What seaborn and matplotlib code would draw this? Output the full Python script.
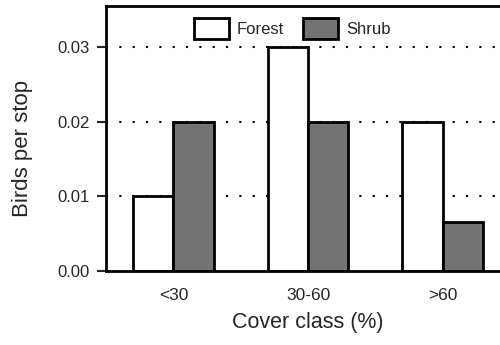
import pandas as pd
import matplotlib
matplotlib.use("Agg")
import matplotlib.pyplot as plt
import seaborn as sns

# Values
cover_classes = ["<30", "30-60", ">60"]
forest = [0.010, 0.030, 0.020]
shrub = [0.020, 0.020, 0.0066]
y_ticks = [0.00, 0.01, 0.02, 0.03]

df = pd.DataFrame({
    "cover": cover_classes * 2,
    "habitat": ["Forest"] * 3 + ["Shrub"] * 3,
    "birds": forest + shrub,
})

sns.set_style("white")
plt.rcParams["font.family"] = ["Liberation Sans", "DejaVu Sans"]

fig = plt.figure(figsize=(5, 3.45), dpi=100)
# the original plot is cut off on the right, so the axes run past the edge
ax = fig.add_axes([0.212, 0.2145, 0.808, 0.768])

# Dotted reference lines behind the bars
for yv in y_ticks[1:]:
    ax.axhline(yv, color="black", linestyle=(0, (1, 5.4)), linewidth=1.5, zorder=0)

sns.barplot(data=df, x="cover", y="birds", hue="habitat", order=cover_classes,
            palette={"Forest": "white", "Shrub": "#737373"}, width=0.6,
            edgecolor="black", linewidth=2, saturation=1, ax=ax, zorder=2)

ax.set_xlim(-0.5, 2.5)
ax.set_ylim(0, 0.0355)
ax.set_yticks(y_ticks)
ax.set_yticklabels([f"{v:.2f}" for v in y_ticks])
ax.tick_params(axis="y", direction="out", length=6.5, width=1.5, labelsize=12, pad=5, left=True)
ax.tick_params(axis="x", length=0, labelsize=12.5, pad=12)

ax.set_xlabel("Cover class (%)", fontsize=15.5)
ax.set_ylabel("Birds per stop", fontsize=16)
ax.xaxis.set_label_coords(0.5, -0.155)
ax.yaxis.set_label_coords(-0.181, 0.462)

for side in ["left", "bottom", "top"]:
    ax.spines[side].set_linewidth(2)
    ax.spines[side].set_color("black")
ax.spines["right"].set_visible(False)

ax.legend(title=None, ncol=2, frameon=False, loc="upper left",
          bbox_to_anchor=(0.18, 1.01), fontsize=12, handlelength=2.1,
          handleheight=1.5, columnspacing=1.1, handletextpad=0.5)

fig.savefig("out.png", dpi=100)
